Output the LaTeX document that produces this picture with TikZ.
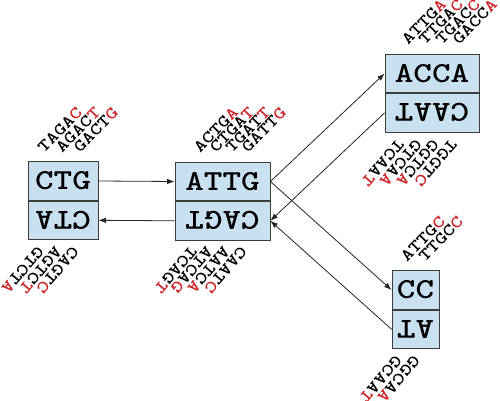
\documentclass[tikz,border=0pt]{standalone}
\usepackage{fontspec}
\usepackage{graphicx}
\usetikzlibrary{arrows.meta}
\definecolor{boxblue}{RGB}{200,224,240}
\definecolor{boxline}{RGB}{60,60,60}
\definecolor{dnared}{RGB}{205,35,40}
\newcommand\dnal[2]{\scalebox{1.26}[1]{#1\textcolor{dnared}{#2}}}
\newcommand\boxtxt[1]{\scalebox{1.22}[1]{#1}}
\newcommand\flipit[1]{\rotatebox[origin=c]{180}{\scalebox{1.22}[1]{#1}}}
\begin{document}
\begin{tikzpicture}[x=1pt,y=1pt,
  half/.style={draw=boxline, fill=boxblue, line width=0.8pt, inner sep=0pt,
    minimum height=38.5pt, font=\ttfamily\bfseries\fontsize{29}{29}\selectfont},
  toplab/.style={inner sep=0pt, anchor=base west, rotate=46,
    font=\ttfamily\bfseries\fontsize{17}{17}\selectfont},
  botlab/.style={inner sep=0pt, anchor=base west, rotate=230,
    font=\ttfamily\bfseries\fontsize{17}{17}\selectfont},
  edge/.style={-{Latex[length=7.5pt,width=5.5pt]}, line width=0.8pt, draw=black!85}]
\useasboundingbox (0,0) rectangle (500,-401);
% boxes
\node[half, minimum width=70pt] (t1) at (63,-181) {\boxtxt{CTG}};
\node[half, minimum width=70pt, anchor=north] (u1) at (t1.south) {\flipit{CTA}};
\node[half, minimum width=95pt] (t2) at (222.5,-181.5) {\boxtxt{ATTG}};
\node[half, minimum width=95pt, anchor=north] (u2) at (t2.south) {\flipit{CAGT}};
\node[half, minimum width=94pt] (t3) at (432,-73.5) {\boxtxt{ACCA}};
\node[half, minimum width=94pt, anchor=north] (u3) at (t3.south) {\flipit{CAAT}};
\node[half, minimum width=47pt] (t4) at (415.5,-290) {\boxtxt{CC}};
\node[half, minimum width=47pt, anchor=north] (u4) at (t4.south) {\flipit{AT}};
% edges
\draw[edge] (t1.east) -- (t2.west);
\draw[edge] (u2.west) -- (u1.east);
\draw[edge] (t2.east) -- (t3.west);
\draw[edge] (u3.west) -- (u2.east);
\draw[edge] (t2.east) -- (t4.west);
\draw[edge] (u4.west) -- (u2.east);
% labels box 1
\node[toplab] (a1) at (44,-154) {\dnal{TAGA}{C}};
\node[toplab] (a2) at (62,-154) {\dnal{AGAC}{T}};
\node[toplab] (a3) at (80,-154) {\dnal{GACT}{G}};
\node[botlab] (b1) at (37,-245) {\dnal{GTCT}{A}};
\node[botlab] (b2) at (55,-245) {\dnal{AGTC}{T}};
\node[botlab] (b3) at (72,-245) {\dnal{CAGT}{C}};
% labels box 2
\node[toplab] (c1) at (200,-154) {\dnal{ACTG}{A}};
\node[toplab] (c2) at (216,-154) {\dnal{CTGA}{T}};
\node[toplab] (c3) at (232,-154) {\dnal{TGAT}{T}};
\node[toplab] (c4) at (248,-154) {\dnal{GATT}{G}};
\node[botlab] (d1) at (190,-245) {\dnal{TCAG}{T}};
\node[botlab] (d2) at (206,-245) {\dnal{ATCA}{G}};
\node[botlab] (d3) at (223,-245) {\dnal{AATC}{A}};
\node[botlab] (d4) at (240,-245) {\dnal{CAAT}{C}};
% labels box 3
\node[toplab] (e1) at (408,-46) {\dnal{ATTG}{A}};
\node[toplab] (e2) at (425,-46) {\dnal{TTGA}{C}};
\node[toplab] (e3) at (442,-46) {\dnal{TGAC}{C}};
\node[toplab] (e4) at (459,-46) {\dnal{GACC}{A}};
\node[botlab] (f1) at (397,-138) {\dnal{TCAA}{T}};
\node[botlab] (f2) at (415,-138) {\dnal{GTCA}{A}};
\node[botlab] (f3) at (432,-138) {\dnal{GGTC}{A}};
\node[botlab] (f4) at (450,-138) {\dnal{TGGT}{C}};
% labels box 4
\node[toplab] (g1) at (407,-263) {\dnal{ATTG}{C}};
\node[toplab] (g2) at (425,-263) {\dnal{TTGC}{C}};
\node[botlab] (h1) at (395,-354) {\dnal{GCAA}{T}};
\node[botlab] (h2) at (413,-354) {\dnal{GGCA}{A}};
\end{tikzpicture}
\end{document}
